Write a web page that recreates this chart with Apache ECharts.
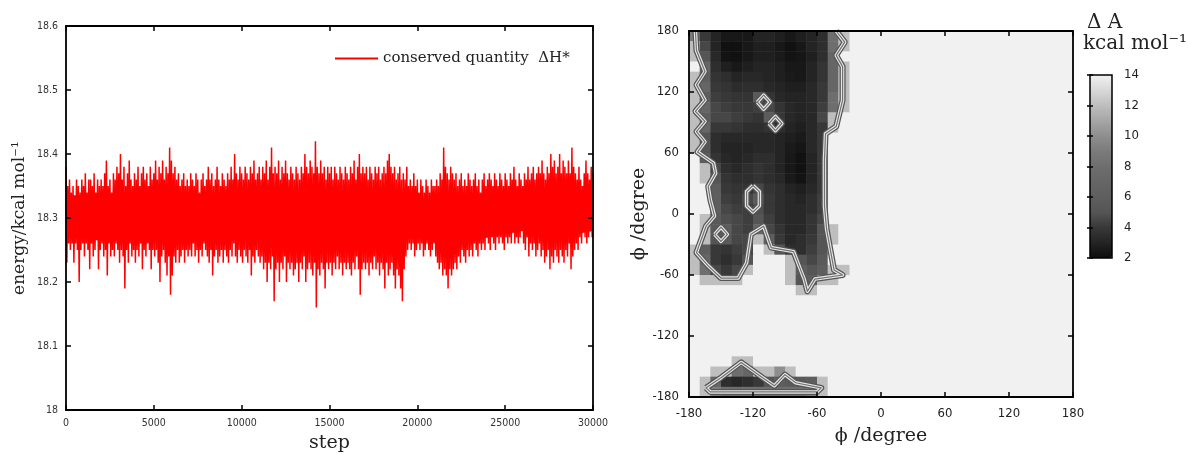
<!DOCTYPE html>
<html><head><meta charset="utf-8">
<script src="https://cdn.jsdelivr.net/npm/echarts@6/dist/echarts.min.js"></script>
<style>html,body{margin:0;padding:0;background:#fff}#c{width:1188px;height:454px}</style>
</head><body><div id="c"></div>
<script>
// ================= LEFT PANEL: conserved quantity vs step =================
const seriesName = 'conserved quantity  \u0394H*';
const sampleInterval = 50;   // steps between successive samples (peak, trough, peak, ...)
// local maxima, at steps 0, 100, 200, ... 30000
const energyPeaks = [
  18.38,18.35,18.36,18.34,18.35,18.33,18.36,18.35,18.34,18.36, 18.35,18.37,18.34,18.36,18.36,18.35,18.37,18.34,18.36,18.35,
  18.36,18.35,18.37,18.39,18.35,18.36,18.34,18.37,18.36,18.38, 18.37,18.40,18.36,18.38,18.35,18.37,18.39,18.36,18.35,18.37,
  18.36,18.38,18.35,18.37,18.38,18.36,18.37,18.35,18.38,18.36, 18.37,18.39,18.36,18.38,18.37,18.39,18.36,18.38,18.37,18.41,
  18.39,18.37,18.38,18.36,18.37,18.35,18.36,18.37,18.35,18.36, 18.35,18.37,18.36,18.35,18.37,18.36,18.34,18.36,18.37,18.35,
  18.36,18.38,18.36,18.37,18.35,18.36,18.38,18.36,18.35,18.37, 18.36,18.35,18.37,18.36,18.38,18.36,18.40,18.37,18.36,18.38,
  18.37,18.36,18.38,18.37,18.36,18.38,18.37,18.39,18.36,18.37, 18.38,18.36,18.38,18.37,18.39,18.36,18.38,18.41,18.37,18.38,
  18.37,18.39,18.36,18.38,18.37,18.39,18.37,18.36,18.38,18.37, 18.36,18.38,18.37,18.36,18.38,18.37,18.40,18.38,18.37,18.39,
  18.38,18.37,18.42,18.38,18.37,18.39,18.37,18.38,18.36,18.38, 18.37,18.38,18.36,18.38,18.37,18.36,18.38,18.37,18.36,18.38,
  18.37,18.36,18.38,18.37,18.39,18.36,18.38,18.40,18.37,18.38, 18.37,18.38,18.36,18.38,18.37,18.36,18.38,18.37,18.38,18.36,
  18.37,18.38,18.37,18.39,18.40,18.38,18.37,18.38,18.36,18.37, 18.38,18.36,18.37,18.36,18.38,18.35,18.36,18.35,18.37,18.35,
  18.36,18.34,18.36,18.35,18.34,18.36,18.35,18.34,18.36,18.35, 18.35,18.36,18.35,18.37,18.36,18.41,18.38,18.37,18.36,18.38,
  18.37,18.36,18.37,18.35,18.36,18.37,18.35,18.36,18.35,18.37, 18.36,18.35,18.36,18.37,18.35,18.36,18.34,18.36,18.37,18.35,
  18.36,18.37,18.36,18.35,18.37,18.36,18.35,18.37,18.36,18.35, 18.37,18.36,18.35,18.37,18.36,18.38,18.36,18.35,18.37,18.36,
  18.35,18.37,18.36,18.38,18.36,18.37,18.38,18.36,18.37,18.38, 18.37,18.39,18.37,18.36,18.38,18.37,18.40,18.38,18.39,18.37,
  18.38,18.40,18.37,18.39,18.38,18.37,18.39,18.37,18.41,18.38, 18.37,18.36,18.38,18.36,18.35,18.37,18.39,18.37,18.36,18.38,
  18.37
];
// local minima, at steps 50, 150, ... 29950
const energyTroughs = [
  18.23,18.26,18.25,18.26,18.23,18.26,18.25,18.20,18.25,18.26, 18.24,18.26,18.25,18.22,18.26,18.24,18.25,18.27,18.22,18.25,
  18.26,18.24,18.25,18.21,18.26,18.24,18.25,18.24,18.26,18.25, 18.23,18.25,18.24,18.19,18.25,18.23,18.26,18.24,18.25,18.23,
  18.25,18.24,18.26,18.22,18.25,18.24,18.26,18.25,18.22,18.25, 18.24,18.25,18.23,18.20,18.24,18.25,18.23,18.21,18.24,18.18,
  18.21,18.24,18.23,18.25,18.23,18.24,18.25,18.23,18.25,18.24, 18.25,18.24,18.26,18.24,18.25,18.23,18.25,18.24,18.26,18.25,
  18.24,18.23,18.25,18.21,18.24,18.25,18.23,18.24,18.25,18.23, 18.25,18.24,18.23,18.25,18.24,18.26,18.24,18.23,18.25,18.24,
  18.23,18.25,18.24,18.23,18.25,18.21,18.24,18.23,18.25,18.24, 18.23,18.24,18.22,18.23,18.20,18.23,18.22,18.24,18.17,18.22,
  18.23,18.20,18.23,18.22,18.24,18.20,18.23,18.22,18.23,18.21, 18.22,18.23,18.20,18.23,18.22,18.24,18.20,18.22,18.23,18.22,
  18.21,18.23,18.16,18.22,18.21,18.23,18.22,18.19,18.23,18.22, 18.23,18.21,18.23,18.22,18.24,18.22,18.23,18.21,18.23,18.22,
  18.23,18.22,18.21,18.23,18.22,18.24,18.22,18.18,18.22,18.23, 18.22,18.23,18.21,18.23,18.22,18.24,18.22,18.23,18.21,18.23,
  18.22,18.19,18.23,18.21,18.22,18.23,18.21,18.19,18.22,18.21, 18.19,18.17,18.22,18.24,18.25,18.26,18.25,18.26,18.24,18.25,
  18.26,18.25,18.26,18.24,18.25,18.26,18.25,18.24,18.25,18.26, 18.24,18.23,18.22,18.23,18.21,18.22,18.21,18.19,18.22,18.21,
  18.22,18.23,18.22,18.24,18.23,18.25,18.24,18.23,18.25,18.24, 18.25,18.24,18.26,18.25,18.24,18.26,18.25,18.26,18.25,18.27,
  18.26,18.25,18.27,18.26,18.25,18.27,18.26,18.27,18.26,18.25, 18.27,18.26,18.27,18.26,18.28,18.26,18.27,18.26,18.27,18.28,
  18.26,18.25,18.27,18.24,18.26,18.25,18.26,18.24,18.25,18.26, 18.24,18.25,18.23,18.24,18.25,18.22,18.24,18.23,18.25,18.24,
  18.23,18.25,18.24,18.23,18.25,18.24,18.26,18.22,18.24,18.25, 18.26,18.25,18.27,18.26,18.28,18.27,18.26,18.27,18.28,18.27
];
// solid core of the fluctuation band
const coreSteps = [0,2000,4000,6000,8000,10000,12000,14000,16000,18000,20000,22000,24000,26000,28000,30000];
const coreUpper = [18.335,18.335,18.34,18.34,18.335,18.34,18.34,18.34,18.34,18.34,18.33,18.335,18.335,18.34,18.345,18.34];
const coreLower = [18.27,18.265,18.265,18.26,18.265,18.265,18.26,18.255,18.26,18.26,18.27,18.255,18.27,18.28,18.27,18.28];

// ================= RIGHT PANEL: free-energy map =================
const phiCenters = [-175,-165,-155,-145,-135,-125,-115,-105,-95,-85,-75,-65,-55,-45,-35];
const psiCenters = [175,165,155,145,135,125,115,105,95,85,75,65,55,45,35,25,15,5,
                    -5,-15,-25,-35,-45,-55,-65,-75,-85,-95,-105,-115,-125,-135,-145,-155,-165,-175];
const freeEnergy = [
  [9,4,3,2.5,2.5,2.5,3,3,2.8,2.5,2.8,3,3.5,8,12],
  [12,4.5,3,2.2,2.2,2.5,2.8,2.8,2.5,2.2,2.5,3,3.5,8,12],
  [12,5,3.2,2.3,2.2,2.5,2.8,2.8,2.6,2.3,2.4,2.8,3.5,7,14],
  [14,7,3.5,2.8,2.5,2.8,3,3,2.8,2.5,2.5,3,3.8,7,12],
  [12,6,3.8,3.5,3,3.2,3.2,3,2.8,2.6,2.5,3,3.8,7,12],
  [12,7,4,3.8,3.4,3.5,3.5,3.2,3,2.8,2.8,3.2,4,7,12],
  [12,6,4.2,4,3.8,3.8,5.5,3.8,3.2,3,3,3.2,4,8,12],
  [12,7,4.5,4.2,4,4,4.2,4.5,3.8,3.2,3,3.2,4.2,8,12],
  [12,6,4.5,4.5,4.2,4,3.8,5.8,4,3.2,3,3.2,4.5,12,14],
  [12,7,4,4,3.8,3.5,3.5,3.8,3.5,3,2.8,3.2,4,12,14],
  [12,5,3.5,3.2,3.2,3.2,3.2,3.2,3,2.8,2.6,3.2,4,14,14],
  [12,5,3.5,3,3,3,3.2,3.2,3,2.6,2.4,3.2,4,14,14],
  [14,6,3.8,3.2,3,3.2,3.5,3.5,3,2.5,2.2,3,4,14,14],
  [14,12,4.5,3.5,3.2,3.5,3.8,3.5,3,2.5,2.2,3,4,14,14],
  [14,12,5,3.8,3.5,3.5,3.8,3.5,3.2,2.6,2.3,3,4,14,14],
  [14,14,6,4,3.8,3.8,4.5,3.8,3.5,3,2.8,3.2,4,14,14],
  [14,14,6,4.2,4,4.5,5.8,4,3.5,3.2,3,3.5,4.2,14,14],
  [14,14,6,4.5,4.2,4.2,4.8,4,3.5,3.2,3.2,3.5,4.2,14,14],
  [14,12,5.5,4.8,4.5,4.2,5,4.2,3.5,3.2,3.2,3.8,4.5,14,14],
  [14,12,5.5,5.8,4.5,4.2,7,4.5,3.8,3.2,3.2,3.8,5,12,14],
  [14,12,5,5.5,4.5,4.5,12,6,4,3.2,3.5,4,5,12,14],
  [12,6,4,3.8,4.2,4.5,14,12,5,3.5,3.5,4.2,5,14,14],
  [12,7,4,3.5,4,5,14,14,14,12,5,4.5,5.5,14,14],
  [12,8,4.5,4,4.5,12,14,14,14,12,6,5,6,12,12],
  [14,12,12,12,12,14,14,14,14,12,5,6,12,12,14],
  [14,14,14,14,14,14,14,14,14,14,12,12,14,14,14],
  [14,14,14,14,14,14,14,14,14,14,14,14,14,14,14],
  [14,14,14,14,14,14,14,14,14,14,14,14,14,14,14],
  [14,14,14,14,14,14,14,14,14,14,14,14,14,14,14],
  [14,14,14,14,14,14,14,14,14,14,14,14,14,14,14],
  [14,14,14,14,14,14,14,14,14,14,14,14,14,14,14],
  [14,14,14,14,14,14,14,14,14,14,14,14,14,14,14],
  [14,14,14,14,12,12,14,14,14,14,14,14,14,14,14],
  [14,14,12,12,8,7,12,12,10,12,14,14,14,14,14],
  [14,12,7,3.5,3.2,3.5,4,5,6,5.5,5.5,6,12,14,14],
  [14,12,9,8,8,8,8,8,8,8,8,9,12,14,14]
];
const cellHalf = 5; // half width of a 10-degree bin
// contour lines (phi, psi)
const contourMain = [[-174,180],[-173,161],[-165,140],[-173,127],[-165,112],[-174,101],[-165,91],[-173,81],[-165,71],[-172,61],[-157,50],[-155,40],[-162,27],[-160,14],[-156,-2],[-164,-12],[-173,-38],[-162,-51],[-150,-63],[-134,-63],[-126,-48],[-122,-20],[-110,-12],[-103,-33],[-82,-37],[-72,-64],[-69,-76],[-62,-64],[-36,-60],[-44,-55],[-47,-38],[-51,-15],[-53,8],[-53,53],[-52,79],[-42,86],[-36,112],[-36,145],[-42,156],[-34,169],[-42,180]];
const contourIsland1 = [[-116,110],[-110,117],[-104,110],[-110,103],[-116,110]];
const contourIsland2 = [[-105,89],[-99,96],[-93,89],[-99,82],[-105,89]];
const contourIsland3 = [[-120,28],[-114,22],[-114,8],[-120,2],[-126,8],[-126,22],[-120,28]];
const contourIsland4 = [[-156,-20],[-150,-13],[-144,-20],[-150,-27],[-156,-20]];
const contourBottom = [[-164,-171],[-150,-161],[-131,-146],[-111,-161],[-100,-169],[-90,-158],[-80,-166],[-56,-171],[-60,-175],[-160,-175],[-164,-171]];
const angleMin = -180, angleMax = 180, angleStep = 60;
const colorbarMin = 2, colorbarMax = 14, colorbarStep = 2;

// ================= build =================
const energySeries = [];
for (let k = 0; k < energyPeaks.length; k++) {
  energySeries.push([2 * k * sampleInterval, energyPeaks[k]]);
  if (k < energyTroughs.length) energySeries.push([(2 * k + 1) * sampleInterval, energyTroughs[k]]);
}
const coreSegments = [];
for (let i = 0; i + 1 < coreSteps.length; i++) {
  coreSegments.push([coreSteps[i], coreLower[i], coreUpper[i], coreSteps[i + 1], coreLower[i + 1], coreUpper[i + 1]]);
}
const cells = [];
psiCenters.forEach((psi, r) => phiCenters.forEach((phi, c) => cells.push([phi, psi, freeEnergy[r][c]])));
const contourData = [contourMain, contourIsland1, contourIsland2, contourIsland3, contourIsland4, contourBottom].map(c => ({coords: c}));

const sans = "'DejaVu Sans Condensed','DejaVu Sans',sans-serif";
const serif = "'DejaVu Serif',serif";

function ax(o) {
  return Object.assign({
    type: 'value', splitLine: {show: false},
    axisLine: {show: true, onZero: false, lineStyle: {color: '#000', width: 1.8}},
    axisTick: {show: true, inside: true, length: 5, lineStyle: {color: '#000', width: 1.5}},
    z: 6
  }, o);
}
const plain = v => String(v);
const leftLabel = {color: '#333', fontFamily: sans, fontSize: 10.5, formatter: plain};
const rightLabel = {color: '#222', fontFamily: sans, fontSize: 13, formatter: plain};

const option = {
  animation: false,
  backgroundColor: '#fff',
  grid: [
    {left: 66, top: 26, width: 527, height: 384, outerBoundsMode: 'none'},
    {left: 689, top: 31, width: 384, height: 366, show: true, backgroundColor: '#f1f1f1', borderWidth: 0, outerBoundsMode: 'none'},
    {left: 1090, top: 75, width: 22, height: 183, show: true, backgroundColor: 'transparent', borderColor: '#000', borderWidth: 1.5, z: 10, outerBoundsMode: 'none'}
  ],
  xAxis: [
    ax({gridIndex: 0, min: 0, max: 30000, interval: 5000, position: 'bottom',
        axisLabel: Object.assign({margin: 8}, leftLabel),
        name: 'step', nameLocation: 'middle', nameGap: 20,
        nameTextStyle: {fontFamily: serif, fontSize: 19, color: '#222'}}),
    ax({gridIndex: 0, min: 0, max: 30000, interval: 5000, position: 'top', axisLabel: {show: false}}),
    ax({gridIndex: 1, min: angleMin, max: angleMax, interval: angleStep, position: 'bottom',
        axisLabel: Object.assign({margin: 10}, rightLabel),
        name: '\u03D5 /degree', nameLocation: 'middle', nameGap: 30,
        nameTextStyle: {fontFamily: serif, fontSize: 19, color: '#222'}}),
    ax({gridIndex: 1, min: angleMin, max: angleMax, interval: angleStep, position: 'top', axisLabel: {show: false}}),
    {type: 'value', gridIndex: 2, min: 0, max: 1, show: false}
  ],
  yAxis: [
    ax({gridIndex: 0, min: 18, max: 18.6, interval: 0.1, position: 'left',
        axisLabel: Object.assign({margin: 8}, leftLabel),
        name: 'energy/kcal mol\u207B\u00B9', nameLocation: 'middle', nameGap: 38,
        nameTextStyle: {fontFamily: serif, fontSize: 17, color: '#222'}}),
    ax({gridIndex: 0, min: 18, max: 18.6, interval: 0.1, position: 'right', axisLabel: {show: false}}),
    ax({gridIndex: 1, min: angleMin, max: angleMax, interval: angleStep, position: 'left',
        axisLabel: Object.assign({margin: 10}, rightLabel),
        name: '\u03D5 /degree', nameLocation: 'middle', nameGap: 26,
        nameTextStyle: {fontFamily: serif, fontSize: 19, color: '#222'}}),
    ax({gridIndex: 1, min: angleMin, max: angleMax, interval: angleStep, position: 'right', axisLabel: {show: false}}),
    ax({gridIndex: 2, min: colorbarMin, max: colorbarMax, interval: colorbarStep, position: 'right',
        axisLine: {show: false}, axisTick: {show: true, inside: true, length: 3, lineStyle: {color: '#000', width: 1.5}},
        axisLabel: {margin: 12, color: '#222', fontFamily: sans, fontSize: 13}, z: 12}),
    ax({gridIndex: 2, min: colorbarMin, max: colorbarMax, interval: colorbarStep, position: 'left',
        axisLine: {show: false}, axisTick: {show: true, inside: true, length: 3, lineStyle: {color: '#000', width: 1.5}},
        axisLabel: {show: false}, z: 12})
  ],
  visualMap: {
    type: 'continuous', min: colorbarMin, max: colorbarMax, dimension: 2, seriesIndex: 2,
    calculable: false, hoverLink: false, realtime: false,
    left: 1090, top: 75, itemWidth: 22, itemHeight: 183, padding: 0,
    inRange: {color: ['#0c0c0c','#242424','#383838','#555555','#5e5e5e','#666666','#6e6e6e',
                      '#7b7b7b','#8e8e8e','#a6a6a6','#bebebe','#d8d8d8','#f1f1f1']}
  },
  legend: {
    data: [seriesName], left: 335, top: 51, padding: 0,
    icon: 'rect', itemWidth: 43, itemHeight: 2,
    textStyle: {fontFamily: serif, fontSize: 15, color: '#222'}
  },
  graphic: [
    {type: 'text', left: 1087, top: 13, style: {text: '\u0394 A', font: '20px ' + serif, fill: '#222'}},
    {type: 'text', left: 1083, top: 34, style: {text: 'kcal mol\u207B\u00B9', font: '20px ' + serif, fill: '#222'}}
  ],
  series: [
    {type: 'custom', name: 'core', xAxisIndex: 0, yAxisIndex: 0, data: coreSegments, silent: true,
     encode: {x: [0, 3], y: [1, 2, 4, 5]}, z: 2,
     renderItem: function (params, api) {
       const a = api.coord([api.value(0), api.value(1)]);
       const b = api.coord([api.value(0), api.value(2)]);
       const c = api.coord([api.value(3), api.value(5)]);
       const d = api.coord([api.value(3), api.value(4)]);
       return {type: 'polygon', shape: {points: [a, b, c, d]}, style: {fill: '#ff0000', stroke: '#ff0000', lineWidth: 0.5}};
     }},
    {type: 'line', name: seriesName, xAxisIndex: 0, yAxisIndex: 0, data: energySeries,
     symbol: 'none', sampling: 'none', color: '#ff0000', lineStyle: {color: '#ff0000', width: 1.5}, z: 3},
    {type: 'custom', name: 'free energy', xAxisIndex: 2, yAxisIndex: 2, data: cells,
     encode: {x: 0, y: 1}, silent: true,
     renderItem: function (params, api) {
       const x = api.value(0), y = api.value(1);
       const p0 = api.coord([x - cellHalf, y + cellHalf]);
       const p1 = api.coord([x + cellHalf, y - cellHalf]);
       return {type: 'rect', shape: {x: p0[0], y: p0[1], width: p1[0] - p0[0] + 0.5, height: p1[1] - p0[1] + 0.5},
               style: {fill: api.visual('color')}};
     }},
    {type: 'lines', coordinateSystem: 'cartesian2d', xAxisIndex: 2, yAxisIndex: 2, polyline: true, silent: true,
     data: contourData, lineStyle: {color: '#555', width: 6, opacity: 1, join: 'round'}, z: 3},
    {type: 'lines', coordinateSystem: 'cartesian2d', xAxisIndex: 2, yAxisIndex: 2, polyline: true, silent: true,
     data: contourData, lineStyle: {color: '#e6e6e6', width: 3.5, opacity: 1, join: 'round'}, z: 4},
    {type: 'lines', coordinateSystem: 'cartesian2d', xAxisIndex: 2, yAxisIndex: 2, polyline: true, silent: true,
     data: contourData, lineStyle: {color: '#707070', width: 1.2, opacity: 1, join: 'round'}, z: 5}
  ]
};
const chart = echarts.init(document.getElementById('c'), null, {renderer: 'canvas'});
chart.setOption(option);
</script></body></html>
